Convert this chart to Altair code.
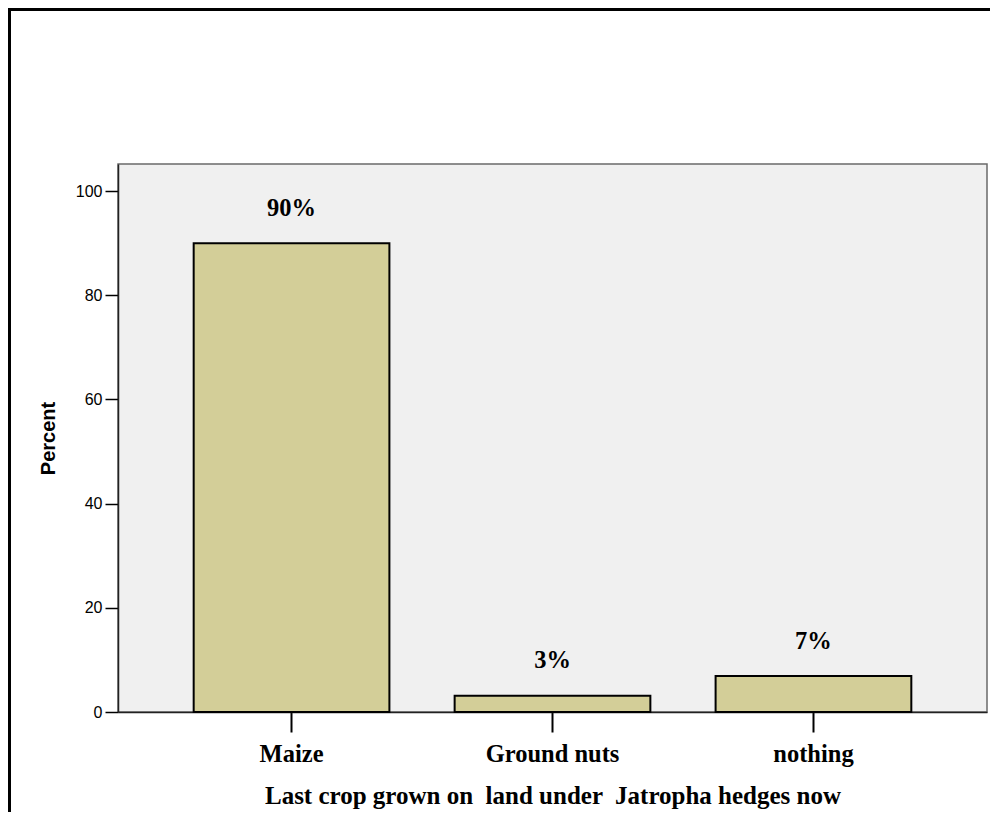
import altair as alt
import pandas as pd

crops = ["Maize", "Ground nuts", "nothing"]
percents = [90.0, 3.1, 6.9]
labels = ["90%", "3%", "7%"]
y_ticks = [0, 20, 40, 60, 80, 100]

df = pd.DataFrame({"crop": crops, "pct": percents, "label": labels})

W, H = 869, 548
PL, PT, PR, PB = 110, 156, 3, 100
SERIF = 24.5

x_enc = alt.X(
    "crop:N",
    sort=crops,
    scale=alt.Scale(paddingInner=0.25, paddingOuter=0.29),
    axis=alt.Axis(
        title="Last crop grown on \u00a0land under \u00a0Jatropha hedges now",
        labelAngle=0,
        labelFont="Liberation Serif",
        labelFontWeight="bold",
        labelFontSize=SERIF,
        labelColor="black",
        labelPadding=10,
        tickSize=20,
        tickWidth=2,
        tickColor="black",
        domainColor="#222222",
        domainWidth=1.5,
        titleFont="Liberation Serif",
        titleFontWeight="bold",
        titleFontSize=25,
        titleColor="black",
        titlePadding=18,
    ),
)

y_enc = alt.Y(
    "pct:Q",
    scale=alt.Scale(domain=[0, 105.2], nice=False),
    axis=alt.Axis(
        title="Percent",
        values=y_ticks,
        grid=False,
        labelFont="Liberation Sans",
        labelFontSize=16,
        labelColor="black",
        labelPadding=3,
        tickSize=13,
        tickWidth=1.5,
        tickColor="black",
        domainColor="#222222",
        domainWidth=1.5,
        titleFont="Liberation Sans",
        titleFontWeight="bold",
        titleFontSize=20,
        titleColor="black",
        titlePadding=17,
    ),
)

bars = alt.Chart(df).mark_bar(
    color="#d3ce98", stroke="black", strokeWidth=2
).encode(x=x_enc, y=y_enc)

text = alt.Chart(df).mark_text(
    font="Liberation Serif", fontWeight="bold", fontSize=SERIF,
    color="black", baseline="alphabetic", dy=-27.5
).encode(x=alt.X("crop:N", sort=crops), y="pct:Q", text="label:N")

frame_top = alt.Chart(df).mark_rule(color="black", strokeWidth=3).encode(
    x=alt.value(-PL), x2=alt.value(W + PR), y=alt.value(-PT + 1.5)
)
frame_left = alt.Chart(df).mark_rule(color="black", strokeWidth=3).encode(
    x=alt.value(-PL + 1.5), y=alt.value(-PT), y2=alt.value(H + PB)
)

chart = alt.layer(bars, text, frame_top, frame_left).properties(
    width=W, height=H,
    padding={"left": PL, "top": PT, "right": PR, "bottom": PB},
    autosize=alt.AutoSizeParams(type="none"),
    background="white",
).configure_view(
    fill="#f0f0f0", stroke="#6a6a6a", strokeWidth=1.5
)

chart.save("out.html", embed_options={"renderer": "svg", "actions": False})
